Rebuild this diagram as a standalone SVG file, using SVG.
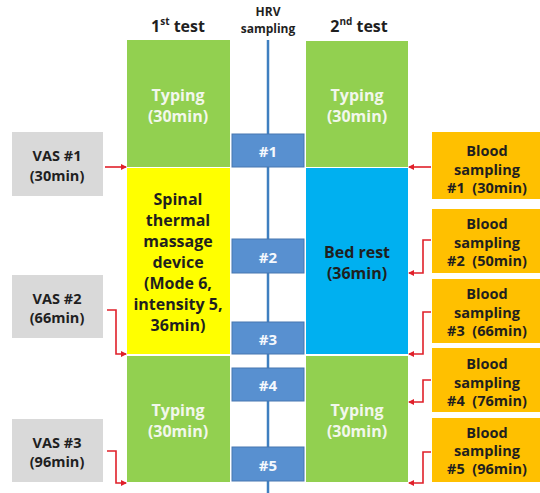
<svg xmlns="http://www.w3.org/2000/svg" width="540" height="493" viewBox="0 0 540 493">
<defs>
<marker id="ah" markerWidth="6" markerHeight="6" refX="5" refY="3" orient="auto" markerUnits="userSpaceOnUse"><path d="M0,0 L6,3 L0,6 z" fill="#e0202a"/></marker>
<style>
text{font-family:"Open Sans","Noto Sans","Liberation Sans",sans-serif;font-weight:bold;text-anchor:middle;dominant-baseline:central}
.t{font-size:16px;fill:#1f1f1f}
.tw{font-size:16px;fill:#f2f7ec}
.h{font-size:15px;fill:#f4f8fd}
.s{font-size:14.5px;fill:#1f1f1f}
.g{fill:#92D050}
.hrv{fill:#5890d0;stroke:#4676b0;stroke-width:1}
.red{fill:none;stroke:#e0202a;stroke-width:1.6;marker-end:url(#ah)}
</style>
</defs>
<rect width="540" height="493" fill="#ffffff"/>
<g id="headers">
<text class="t" x="178" y="26">1<tspan font-size="10" dy="-5">st</tspan><tspan dy="5"> test</tspan></text>
<text style="font-size:12px;fill:#1f1f1f" x="268" y="11">HRV</text>
<text style="font-size:12px;fill:#1f1f1f" x="268" y="28">sampling</text>
<text class="t" x="359" y="26">2<tspan font-size="10" dy="-5">nd</tspan><tspan dy="5"> test</tspan></text>
</g>
<g id="connectors">
<line x1="268" y1="40" x2="268" y2="493" stroke="#3f7fc0" stroke-width="2.5"/>
<path class="red" d="M105,167 H126"/>
<path class="red" d="M107,310 H116 V354 H126"/>
<path class="red" d="M107,451 H116 V483 H126"/>
<path class="red" d="M431,167 H409"/>
<path class="red" d="M431,240 H423 V273 H409"/>
<path class="red" d="M431,312 H423 V354 H409"/>
<path class="red" d="M431,380 H423 V402 H409"/>
<path class="red" d="M431,452 H423 V483 H409"/>
</g>
<g id="t1-typing1"><rect class="g" x="127" y="40" width="103" height="127"/><text class="tw" x="178" y="95">Typing</text><text class="tw" x="178" y="116">(30min)</text></g>
<g id="t1-device"><rect fill="#FFFF00" x="127" y="168" width="103" height="186"/>
<text class="t" x="178" y="199">Spinal</text><text class="t" x="178" y="220">thermal</text><text class="t" x="178" y="241">massage</text><text class="t" x="178" y="262">device</text><text class="t" x="178" y="283">(Mode 6,</text><text class="t" x="178" y="304">intensity 5,</text><text class="t" x="178" y="325">36min)</text></g>
<g id="t1-typing2"><rect class="g" x="127" y="356" width="103" height="126"/><text class="tw" x="178" y="410">Typing</text><text class="tw" x="178" y="431">(30min)</text></g>
<g id="t2-typing1"><rect class="g" x="306" y="41" width="102" height="126"/><text class="tw" x="357" y="95">Typing</text><text class="tw" x="357" y="116">(30min)</text></g>
<g id="t2-bedrest"><rect fill="#00B0F0" x="306" y="168" width="102" height="186"/><text class="t" x="357" y="252">Bed rest</text><text class="t" x="357" y="273">(36min)</text></g>
<g id="t2-typing2"><rect class="g" x="306" y="356" width="102" height="126"/><text class="tw" x="357" y="410">Typing</text><text class="tw" x="357" y="431">(30min)</text></g>
<g id="hrv1"><rect class="hrv" x="232" y="134" width="72" height="33"/><text class="h" x="268" y="151">#1</text></g>
<g id="hrv2"><rect class="hrv" x="232" y="239" width="72" height="34"/><text class="h" x="268" y="257">#2</text></g>
<g id="hrv3"><rect class="hrv" x="232" y="322" width="72" height="32"/><text class="h" x="268" y="339">#3</text></g>
<g id="hrv4"><rect class="hrv" x="232" y="368" width="72" height="33"/><text class="h" x="268" y="385">#4</text></g>
<g id="hrv5"><rect class="hrv" x="232" y="447" width="72" height="34"/><text class="h" x="268" y="465">#5</text></g>
<g id="vas1"><rect fill="#D9D9D9" x="12" y="132" width="91" height="64"/><text class="s" x="57" y="155">VAS #1</text><text class="s" x="57" y="175">(30min)</text></g>
<g id="vas2"><rect fill="#D9D9D9" x="12" y="275" width="91" height="63"/><text class="s" x="57" y="298">VAS #2</text><text class="s" x="57" y="317">(66min)</text></g>
<g id="vas3"><rect fill="#D9D9D9" x="12" y="419" width="91" height="63"/><text class="s" x="57" y="442">VAS #3</text><text class="s" x="57" y="461">(96min)</text></g>
<g id="blood1"><rect fill="#FFC000" x="432" y="132" width="108" height="67"/><text class="s" x="487" y="150">Blood</text><text class="s" x="487" y="169">sampling</text><text class="s" x="487" y="187" xml:space="preserve">#1  (30min)</text></g>
<g id="blood2"><rect fill="#FFC000" x="432" y="209" width="108" height="64"/><text class="s" x="487" y="223">Blood</text><text class="s" x="487" y="242">sampling</text><text class="s" x="487" y="260" xml:space="preserve">#2  (50min)</text></g>
<g id="blood3"><rect fill="#FFC000" x="432" y="279" width="108" height="64"/><text class="s" x="487" y="293">Blood</text><text class="s" x="487" y="312">sampling</text><text class="s" x="487" y="330" xml:space="preserve">#3  (66min)</text></g>
<g id="blood4"><rect fill="#FFC000" x="432" y="348" width="108" height="64"/><text class="s" x="487" y="363">Blood</text><text class="s" x="487" y="382">sampling</text><text class="s" x="487" y="400" xml:space="preserve">#4  (76min)</text></g>
<g id="blood5"><rect fill="#FFC000" x="432" y="418" width="108" height="64"/><text class="s" x="487" y="432">Blood</text><text class="s" x="487" y="450">sampling</text><text class="s" x="487" y="468" xml:space="preserve">#5  (96min)</text></g>
</svg>
